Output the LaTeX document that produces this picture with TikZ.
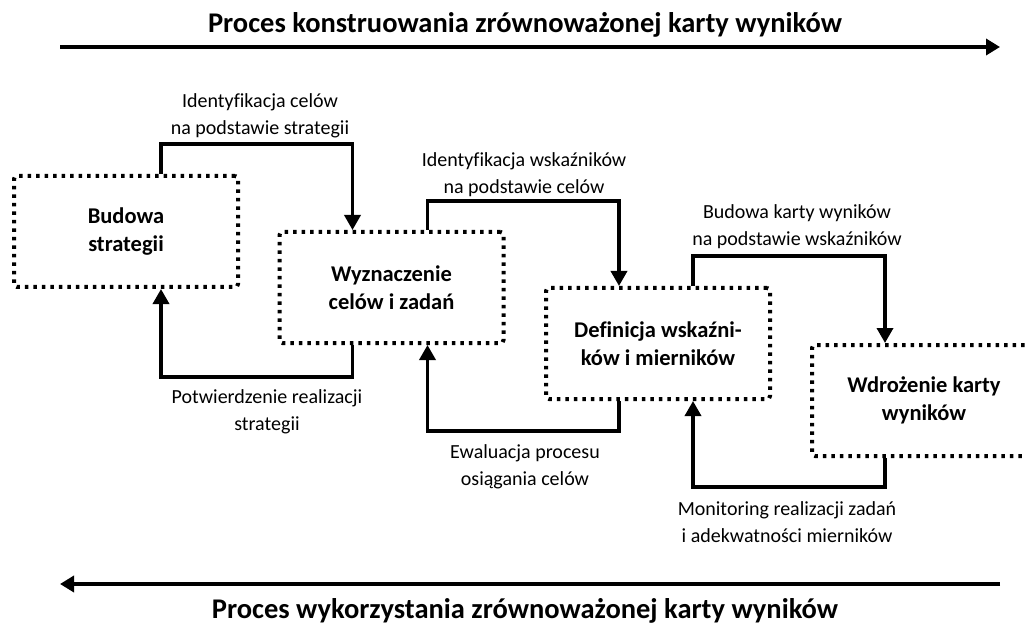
\documentclass[tikz,border=0pt]{standalone}
\usepackage{fontspec}
\setmainfont{Carlito}[Ligatures={NoCommon}]
\usetikzlibrary{arrows.meta}
\begin{document}
\begin{tikzpicture}[x=1pt,y=-1pt,
 box/.style={draw, line width=4pt, dash pattern=on 3.5pt off 5pt, rounded corners=3pt, minimum width=224pt, minimum height=111pt, inner sep=0pt, align=center, font=\fontsize{22.5}{28}\selectfont\bfseries},
 conn/.style={line width=3.5pt, -{Triangle[width=16pt,length=15pt]}},
 lbl/.style={align=center, font=\fontsize{20}{27}\selectfont, inner sep=0pt},
 big/.style={line width=4.5pt, -{Triangle[width=16pt,length=14pt]}},
 ttl/.style={font=\fontsize{28.5}{30}\selectfont\bfseries, inner sep=0pt}]
\useasboundingbox (0,0) rectangle (1025,628);
\clip (0,0) rectangle (1025,628);
% titles and main arrows
\node[ttl] (t1) at (525,25) {Proces konstruowania zrównoważonej karty wyników};
\node[ttl] (t2) at (525,611) {Proces wykorzystania zrównoważonej karty wyników};
\coordinate (ta1) at (60,47);
\coordinate (ta2) at (1000,47);
\coordinate (ba1) at (1000,584);
\coordinate (ba2) at (60,584);
\draw[big] (ta1) -- (ta2);
\draw[big] (ba1) -- (ba2);
% boxes
\node[box] (b1) at (126,231.5) {Budowa\\strategii};
\node[box] (b2) at (391.5,287.5) {Wyznaczenie\\celów i zadań};
\node[box] (b3) at (658,343.5) {Definicja wskaźni-\\ków i mierników};
\node[box] (b4) at (924,400.5) {Wdrożenie karty\\wyników};
% forward connectors
\draw[conn] ([xshift=149pt]b1.north west) -- ++(0,-30) -| ([xshift=75pt]b2.north west);
\draw[conn] ([xshift=150pt]b2.north west) -- ++(0,-29) -| ([xshift=75pt]b3.north west);
\draw[conn] ([xshift=149pt]b3.north west) -- ++(0,-30) -| ([xshift=75pt]b4.north west);
% backward connectors
\draw[conn] ([xshift=75pt]b2.south west) -- ++(0,32) -| ([xshift=149pt]b1.south west);
\draw[conn] ([xshift=75pt]b3.south west) -- ++(0,30) -| ([xshift=150pt]b2.south west);
\draw[conn] ([xshift=75pt]b4.south west) -- ++(0,29) -| ([xshift=149pt]b3.south west);
% labels
\node[lbl] (l1) at (260,116) {Identyfikacja celów\\na podstawie strategii};
\node[lbl] (l2) at (524,175) {Identyfikacja wskaźników\\na podstawie celów};
\node[lbl] (l3) at (797,227) {Budowa karty wyników\\na podstawie wskaźników};
\node[lbl] (l4) at (267,412) {Potwierdzenie realizacji\\strategii};
\node[lbl] (l5) at (525,467) {Ewaluacja procesu\\osiągania celów};
\node[lbl] (l6) at (787,522) {Monitoring realizacji zadań\\i adekwatności mierników};
\end{tikzpicture}
\end{document}
